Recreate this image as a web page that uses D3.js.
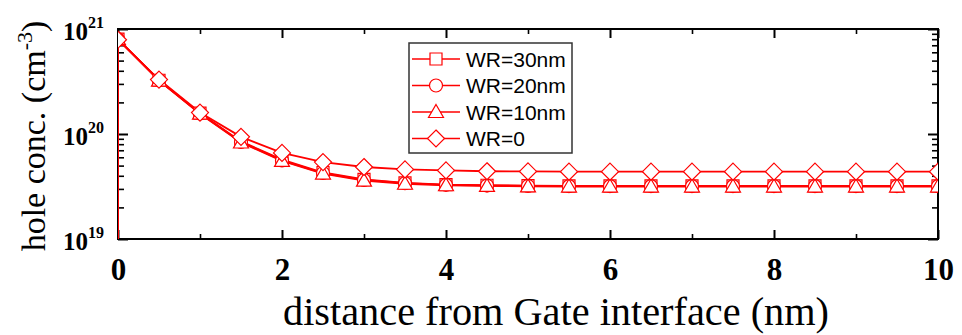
<!DOCTYPE html>
<html>
<head>
<meta charset="utf-8">
<script src="https://cdn.jsdelivr.net/npm/d3@7"></script>
<style>
  body { margin: 0; background: #fff; }
  svg { display: block; }
</style>
</head>
<body>
<div id="chart"></div>
<script>
// data (first point is the surface drop at x = 0)
const distance = [0, 0, 0.5, 1, 1.5, 2, 2.5, 3, 3.5, 4, 4.5, 5, 5.5, 6, 6.5, 7, 7.5, 8, 8.5, 9, 9.5, 10];
const wr30 = [1e18, 8.0e20, 3.25e20, 1.58e20, 8.5e19, 5.7e19, 4.3e19, 3.7e19, 3.42e19, 3.3e19, 3.25e19, 3.22e19, 3.2e19, 3.2e19, 3.2e19, 3.2e19, 3.2e19, 3.2e19, 3.2e19, 3.2e19, 3.2e19, 3.2e19];
const wr20 = [1e18, 8.0e20, 3.25e20, 1.57e20, 8.4e19, 5.6e19, 4.25e19, 3.65e19, 3.4e19, 3.28e19, 3.23e19, 3.2e19, 3.19e19, 3.19e19, 3.19e19, 3.19e19, 3.19e19, 3.19e19, 3.19e19, 3.19e19, 3.19e19, 3.19e19];
const wr10 = [1e18, 8.0e20, 3.22e20, 1.56e20, 8.3e19, 5.55e19, 4.2e19, 3.6e19, 3.36e19, 3.25e19, 3.2e19, 3.17e19, 3.16e19, 3.16e19, 3.16e19, 3.16e19, 3.16e19, 3.16e19, 3.16e19, 3.16e19, 3.16e19, 3.16e19];
const wr0 = [1e18, 7.9e20, 3.3e20, 1.6e20, 9.4e19, 6.6e19, 5.4e19, 4.85e19, 4.6e19, 4.5e19, 4.42e19, 4.4e19, 4.38e19, 4.38e19, 4.38e19, 4.38e19, 4.38e19, 4.38e19, 4.38e19, 4.38e19, 4.38e19, 4.38e19];

const seriesNames = ["WR=30nm", "WR=20nm", "WR=10nm", "WR=0"];
const seriesValues = [wr30, wr20, wr10, wr0];
const seriesShapes = ["square", "circle", "triangle", "diamond"];

const xMajor = [0, 2, 4, 6, 8, 10];
const xMinor = [1, 3, 5, 7, 9];
const yMajor = [1e19, 1e20, 1e21];
const yExp = ["19", "20", "21"];

const w = 962, h = 335;
const m = { left: 118, right: 938, top: 29, bottom: 239 };
const red = "#ff0000";

const x = d3.scaleLinear().domain([0, 10]).range([m.left, m.right]);
const y = d3.scaleLog().domain([1e19, 1e21]).range([m.bottom, m.top]);

const yMinor = [];
[1e19, 1e20].forEach(dec => { for (let k = 2; k <= 9; k++) yMinor.push(k * dec); });

const svg = d3.select("#chart").append("svg")
  .attr("width", w)
  .attr("height", h);

svg.append("clipPath").attr("id", "clip")
  .append("rect")
  .attr("x", m.left).attr("y", m.top)
  .attr("width", m.right - m.left).attr("height", m.bottom - m.top);

// marker path for each shape, centred on 0,0
const shapePath = (shape) => {
  if (shape === "square") return "M-6,-6H6V6H-6Z";
  if (shape === "circle") return "M6.5,0A6.5,6.5 0 1,1 -6.5,0A6.5,6.5 0 1,1 6.5,0Z";
  if (shape === "triangle") return "M0,-7.5L7.5,5.5H-7.5Z";
  return "M0,-8.5L8.5,0L0,8.5L-8.5,0Z";
};

// ticks (inward on all four sides)
const tickStyle = (g, width) => {
  g.select(".domain").remove();
  g.selectAll(".tick line").attr("stroke", "#000").attr("stroke-width", width);
};

const bottomMajor = svg.append("g")
  .attr("transform", `translate(0,${m.bottom})`)
  .call(d3.axisBottom(x).tickValues(xMajor).tickSize(-9).tickFormat(d3.format("d")))
  .call(g => tickStyle(g, 2));
bottomMajor.selectAll(".tick text")
  .attr("y", 41).attr("dy", 0)
  .attr("fill", "#000")
  .style("font-family", "'Liberation Serif', 'Times New Roman', serif")
  .style("font-weight", "bold")
  .style("font-size", "31px");

svg.append("g")
  .attr("transform", `translate(0,${m.bottom})`)
  .call(d3.axisBottom(x).tickValues(xMinor).tickSize(-5).tickFormat(""))
  .call(g => tickStyle(g, 1.6));

svg.append("g")
  .attr("transform", `translate(0,${m.top})`)
  .call(d3.axisTop(x).tickValues(xMajor).tickSize(-9).tickFormat(""))
  .call(g => tickStyle(g, 2));
svg.append("g")
  .attr("transform", `translate(0,${m.top})`)
  .call(d3.axisTop(x).tickValues(xMinor).tickSize(-5).tickFormat(""))
  .call(g => tickStyle(g, 1.6));

svg.append("g")
  .attr("transform", `translate(${m.left},0)`)
  .call(d3.axisLeft(y).tickValues(yMajor).tickSize(-10).tickFormat(""))
  .call(g => tickStyle(g, 2));
svg.append("g")
  .attr("transform", `translate(${m.left},0)`)
  .call(d3.axisLeft(y).tickValues(yMinor).tickSize(-6).tickFormat(""))
  .call(g => tickStyle(g, 1.6));
svg.append("g")
  .attr("transform", `translate(${m.right},0)`)
  .call(d3.axisRight(y).tickValues(yMajor).tickSize(-10).tickFormat(""))
  .call(g => tickStyle(g, 2));
svg.append("g")
  .attr("transform", `translate(${m.right},0)`)
  .call(d3.axisRight(y).tickValues(yMinor).tickSize(-6).tickFormat(""))
  .call(g => tickStyle(g, 1.6));

// y tick labels as 10^n
const yLab = svg.append("g")
  .selectAll("text")
  .data(yMajor)
  .enter()
  .append("text")
  .attr("x", 104)
  .attr("y", d => y(d) + 11)
  .attr("text-anchor", "end")
  .style("font-family", "'Liberation Serif', 'Times New Roman', serif")
  .style("font-weight", "bold")
  .style("font-size", "25px");
yLab.append("tspan").text("10");
yLab.append("tspan")
  .attr("dy", -12)
  .style("font-size", "16px")
  .text((d, i) => yExp[i]);

// frame
svg.append("rect")
  .attr("x", m.left).attr("y", m.top)
  .attr("width", m.right - m.left).attr("height", m.bottom - m.top)
  .attr("fill", "none")
  .attr("stroke", "#000")
  .attr("stroke-width", 2);

// the curves
const plot = svg.append("g").attr("clip-path", "url(#clip)");
const line = d3.line()
  .x((d, i) => x(distance[i]))
  .y(d => y(d));

seriesValues.forEach((vals, s) => {
  plot.append("path")
    .datum(vals)
    .attr("d", line)
    .attr("fill", "none")
    .attr("stroke", red)
    .attr("stroke-width", 1.8);
});

seriesValues.forEach((vals, s) => {
  plot.append("g")
    .selectAll("path")
    .data(vals.slice(1))
    .enter()
    .append("path")
    .attr("transform", (d, i) => `translate(${x(distance[i + 1])},${y(d)})`)
    .attr("d", shapePath(seriesShapes[s]))
    .attr("fill", "#fff")
    .attr("stroke", red)
    .attr("stroke-width", 1.2);
});

// legend
const legend = svg.append("g").attr("id", "legend");
legend.append("rect")
  .attr("x", 409).attr("y", 43)
  .attr("width", 163).attr("height", 110)
  .attr("fill", "#fff")
  .attr("stroke", "#333")
  .attr("stroke-width", 1.5);

const rowY = (i) => 59 + i * 26.5;
seriesNames.forEach((name, i) => {
  legend.append("line")
    .attr("x1", 412).attr("x2", 460)
    .attr("y1", rowY(i)).attr("y2", rowY(i))
    .attr("stroke", red)
    .attr("stroke-width", 1.5);
  legend.append("path")
    .attr("transform", `translate(436,${rowY(i)})`)
    .attr("d", shapePath(seriesShapes[i]))
    .attr("fill", "#fff")
    .attr("stroke", red)
    .attr("stroke-width", 1.2);
  legend.append("text")
    .attr("x", 466)
    .attr("y", rowY(i) + 7.5)
    .style("font-family", "'Liberation Sans', Arial, sans-serif")
    .style("font-size", "21px")
    .text(name);
});

// axis titles
svg.append("text")
  .attr("x", 283)
  .attr("y", 325)
  .style("font-family", "'Liberation Serif', 'Times New Roman', serif")
  .style("font-size", "40.3px")
  .text("distance from Gate interface (nm)");

const yTitle = svg.append("text")
  .attr("transform", "translate(45,136) rotate(-90)")
  .attr("text-anchor", "middle")
  .style("font-family", "'Liberation Serif', 'Times New Roman', serif")
  .style("font-size", "34px");
yTitle.append("tspan").text("hole conc. (cm");
yTitle.append("tspan").attr("dy", -13).style("font-size", "22px").text("-3");
yTitle.append("tspan").attr("dy", 13).text(")");
</script>
</body>
</html>
